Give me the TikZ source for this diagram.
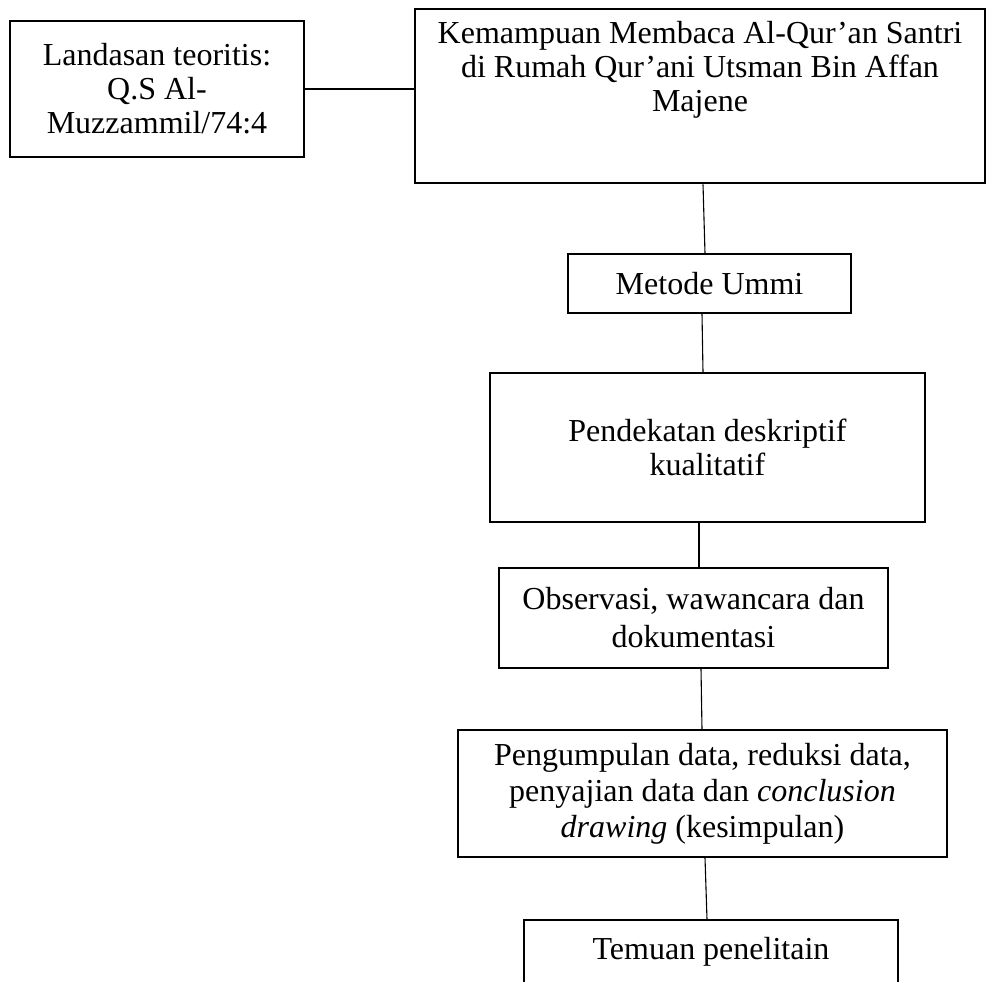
\documentclass[tikz,border=0pt]{standalone}
\usepackage{fontspec}
\setmainfont{Liberation Serif}
\begin{document}
\begin{tikzpicture}[x=1pt,y=-1pt,
  box/.style={draw=black, line width=1.2pt, rectangle, inner sep=0pt, align=center,
    font=\fontsize{32}{34}\selectfont},
  thickbox/.style={box, line width=2.6pt},
  conn/.style={draw=black, line width=1.1pt}]
\useasboundingbox (0,0) rectangle (988,982);
\clip (0,0) rectangle (988,982);
\fill[white] (0,0) rectangle (988,982);

\node[box, minimum width=294, minimum height=136] (land) at (157,89)
  {Landasan teoritis:\\Q.S Al-\\Muzzammil/74:4};
\node[thickbox, minimum width=570, minimum height=174] (kem) at (700,96)
  {\parbox[c][150pt][t]{560pt}{\centering Kemampuan Membaca Al-Qur’an Santri\\di Rumah Qur’ani Utsman Bin Affan\\Majene}};
\node[box, minimum width=283, minimum height=59] (met) at (709.5,283.5)
  {Metode Ummi};
\node[box, minimum width=435, minimum height=149] (pend) at (707.5,447.5)
  {Pendekatan deskriptif\\kualitatif};
\node[box, minimum width=389, minimum height=100, font=\fontsize{32}{38}\selectfont] (obs) at (693.5,618)
  {Observasi, wawancara dan\\dokumentasi};
\node[box, minimum width=489, minimum height=127, font=\fontsize{32}{36}\selectfont] (peng) at (702.5,793.5)
  {Pengumpulan data, reduksi data,\\penyajian data dan \textit{conclusion}\\\textit{drawing} (kesimpulan)};
\node[box, minimum width=374, minimum height=64] (tem) at (711,952)
  {Temuan penelitain};

\draw[conn] (land.east) -- (land.east -| kem.west);
\draw[conn] ([xshift=3pt]kem.south) -- ([xshift=-4.5pt]met.north);
\draw[conn] ([xshift=-7.5pt]met.south) -- ([xshift=-4.5pt]pend.north);
\draw[conn] ([xshift=-8.5pt]pend.south) -- ([xshift=5.5pt]obs.north);
\draw[conn] ([xshift=7.5pt]obs.south) -- ([xshift=-0.5pt]peng.north);
\draw[conn] ([xshift=2.5pt]peng.south) -- ([xshift=-4pt]tem.north);
\end{tikzpicture}
\end{document}
